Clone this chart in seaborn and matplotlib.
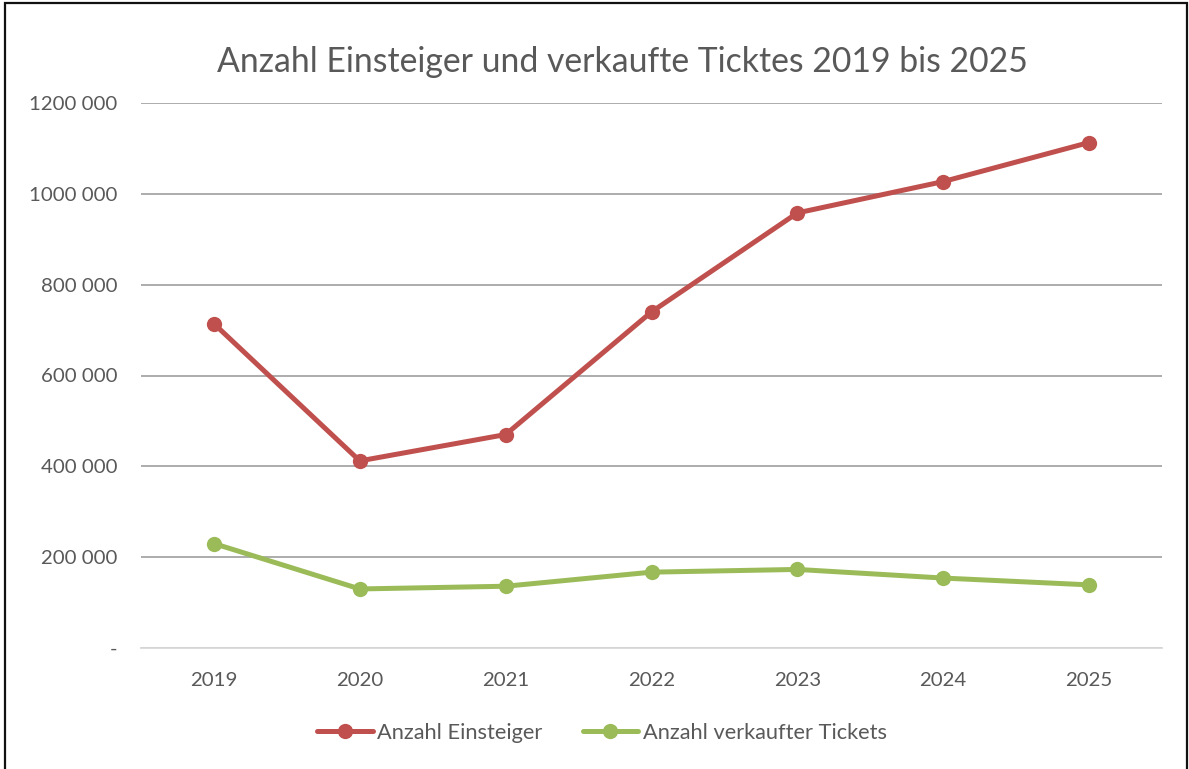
import matplotlib
matplotlib.use("Agg")
import matplotlib.pyplot as plt
import seaborn as sns
import pandas as pd
from matplotlib.patches import Rectangle
from matplotlib.lines import Line2D

years = ["2019", "2020", "2021", "2022", "2023", "2024", "2025"]
einsteiger = [714000, 412000, 470000, 740000, 958000, 1027000, 1113000]
tickets = [230000, 130000, 136000, 167000, 173000, 154000, 139000]
series_names = ["Anzahl Einsteiger", "Anzahl verkaufter Tickets"]
yticks = [0, 200000, 400000, 600000, 800000, 1000000, 1200000]
ytick_labels = ["-", "200 000", "400 000", "600 000", "800 000", "1000 000", "1200 000"]
title = "Anzahl Einsteiger und verkaufte Ticktes 2019 bis 2025"

df = pd.DataFrame({
    "Jahr": years * 2,
    "Wert": einsteiger + tickets,
    "Serie": [series_names[0]] * len(years) + [series_names[1]] * len(years),
})

sns.set_theme(style="white")
plt.rcParams["font.family"] = ["Lato", "DejaVu Sans"]

red = "#C0504D"
green = "#9BBB59"
txt = "#595959"

W, H = 1189, 769
fig = plt.figure(figsize=(W / 100, H / 100), dpi=100)
left, right, top, bottom = 141, 1162, 103, 648
ax = fig.add_axes([left / W, 1 - bottom / H, (right - left) / W, (bottom - top) / H])

sns.lineplot(data=df, x="Jahr", y="Wert", hue="Serie", palette=[red, green],
             marker="o", markersize=11, markeredgewidth=0, linewidth=3.6,
             ax=ax, legend=False, sort=False)

ax.set_xlim(-0.5, len(years) - 0.5)
ax.set_ylim(0, 1200000)
ax.set_yticks(yticks)
ax.set_yticklabels(ytick_labels)
ax.set_xlabel("")
ax.set_ylabel("")
for s in ["left", "right", "top"]:
    ax.spines[s].set_visible(False)
ax.spines["bottom"].set_color("#d9d9d9")
ax.spines["bottom"].set_linewidth(1.3)
ax.yaxis.grid(True, color="#a6a6a6", linewidth=1.3)
ax.set_axisbelow(True)
ax.tick_params(axis="both", length=0, labelsize=14.7, labelcolor=txt)
ax.tick_params(axis="y", pad=17)
ax.tick_params(axis="x", pad=17)

fig.text(622 / W, 1 - 62 / H, title, ha="center", va="center", fontsize=24.3, color=txt)

handles = [Line2D([], [], color=red, linewidth=3.6, marker="o", markersize=11, markeredgewidth=0),
           Line2D([], [], color=green, linewidth=3.6, marker="o", markersize=11, markeredgewidth=0)]
fig.legend(handles, series_names, loc="center", bbox_to_anchor=(602 / W, 1 - 733 / H), ncol=2,
           frameon=False, fontsize=15.7, labelcolor=txt, handlelength=2.55, handletextpad=0.2,
           columnspacing=1.84)

fig.patches.append(Rectangle((5 / W, -0.01), (1182 / W), 1 - 3 / H + 0.01, transform=fig.transFigure,
                             fill=False, edgecolor="#111111", linewidth=1.6))

fig.savefig("out.png", dpi=100, facecolor="white")
